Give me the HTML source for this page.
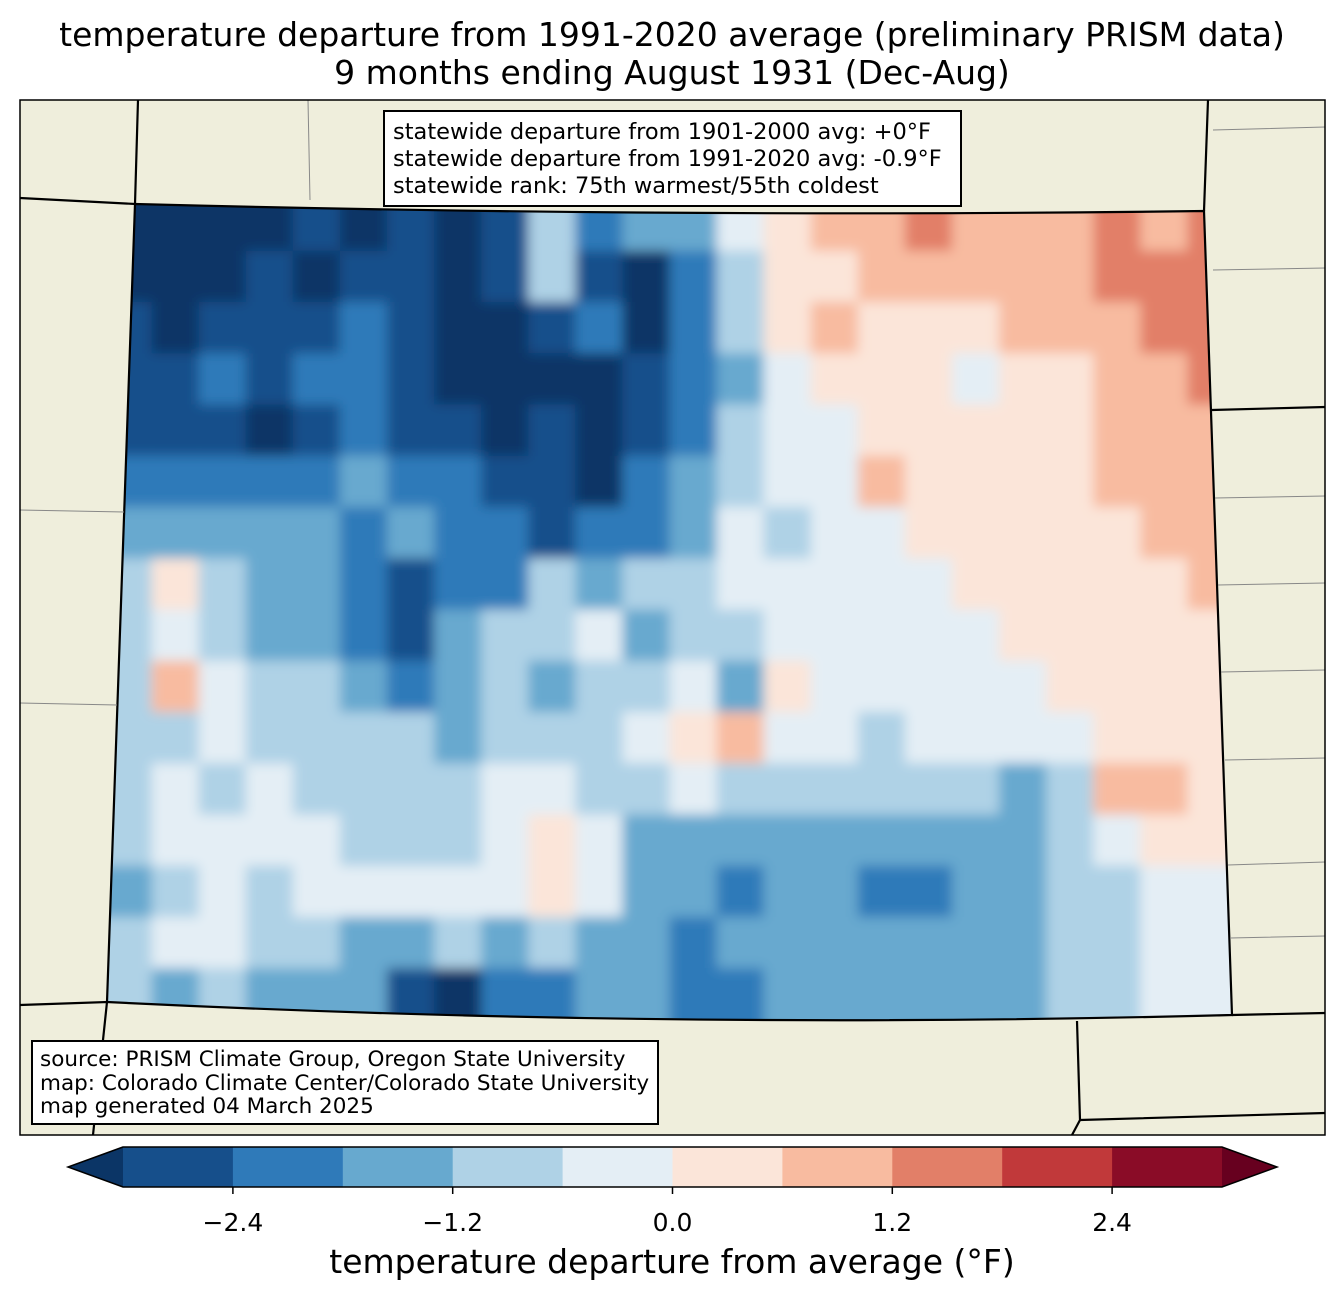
<!DOCTYPE html>
<html><head><meta charset="utf-8">
<style>
body{margin:0;background:#fff;font-family:"Liberation Sans","DejaVu Sans",sans-serif;}
svg text{font-family:"DejaVu Sans","Liberation Sans",sans-serif;}
</style></head>
<body>
<svg id="chart" width="1344" height="1299" viewBox="0 0 1344 1299" xmlns="http://www.w3.org/2000/svg">
<rect width="1344" height="1299" fill="#fff"/>
<text x="672" y="46" text-anchor="middle" font-size="33">temperature departure from 1991-2020 average (preliminary PRISM data)</text>
<text x="672" y="84" text-anchor="middle" font-size="33">9 months ending August 1931 (Dec-Aug)</text>
<defs>
<clipPath id="frameClip"><rect x="20" y="100" width="1305" height="1035"/></clipPath>
<clipPath id="coClip"><path d="M135,204 Q670,218 1204,211 L1232,1015 Q670,1030 107,1002 Z"/></clipPath>
<filter id="blur" filterUnits="userSpaceOnUse" x="60" y="150" width="1230" height="920"><feGaussianBlur stdDeviation="6"/></filter>
</defs>
<g clip-path="url(#frameClip)">
<rect x="20" y="100" width="1305" height="1035" fill="#efeedc"/>
<g clip-path="url(#coClip)"><g id="cells" filter="url(#blur)"></g></g>
<g fill="none" stroke="#000" stroke-width="2.2">
<path d="M135,204 Q670,218 1204,211 L1232,1015 Q670,1030 107,1002 Z"/>
<path d="M20,198 L135,204 L138,100"/>
<path d="M20,1005 L107,1002 L93,1135"/>
<path d="M1204,211 L1208,100 M1212,410 L1325,407"/>
<path d="M1232,1015 L1325,1013 M1077,1021 L1080,1120 L1072,1135 M1080,1120 L1325,1113"/>
</g>
<g fill="none" stroke="#888" stroke-width="1">
<path d="M20,510 L124,512 M20,703 L117,705 M308,100 L310,200 M1213,130 L1325,127 M1213,270 L1325,268 M1215,498 L1325,496 M1218,585 L1325,583 M1221,672 L1325,670 M1225,760 L1325,758 M1228,865 L1325,862 M1230,938 L1325,936"/>
</g>
</g>
<rect x="20" y="100" width="1305" height="1035" fill="none" stroke="#000" stroke-width="1.5"/>
<g>
<rect x="384" y="111" width="577" height="95" fill="#fff" stroke="#000" stroke-width="2"/>
<text x="393" y="139" font-size="22.5">statewide departure from 1901-2000 avg: +0°F</text>
<text x="393" y="166" font-size="22.5">statewide departure from 1991-2020 avg: -0.9°F</text>
<text x="393" y="193" font-size="22.5">statewide rank: 75th warmest/55th coldest</text>
</g>
<g>
<rect x="32" y="1041" width="626" height="83" fill="#fff" stroke="#000" stroke-width="2"/>
<text x="40" y="1066" font-size="21.5">source: PRISM Climate Group, Oregon State University</text>
<text x="40" y="1090" font-size="21.5">map: Colorado Climate Center/Colorado State University</text>
<text x="40" y="1113" font-size="21.5">map generated 04 March 2025</text>
</g>
<g id="cbar"></g>
<text x="672" y="1273" text-anchor="middle" font-size="33">temperature departure from average (°F)</text>
</svg>
<script>
const levels = [-3.0,-2.4,-1.8,-1.2,-0.6,0.0,0.6,1.2,1.8,2.4,3.0];
const binColors = ["#164f8b","#2f7ab9","#67a9cf","#afd2e6","#e4eef5","#fbe5d9","#f8bba0","#e27f68","#c1393a","#8a0c27"];
const underColor = "#0b3566";
const overColor = "#67001f";
const tickValues = [-2.4,-1.2,0.0,1.2,2.4];
const tickLabels = ["\u22122.4","\u22121.2","0.0","1.2","2.4"];
const gridValues = [
[-3.2,-3.2,-3.2,-3.2,-2.7,-3.2,-2.7,-3.2,-2.7,-0.9,-2.1,-1.5,-1.5,-0.3,0.3,0.9,0.9,1.5,0.9,0.9,0.9,1.5,0.9,1.5],
[-3.2,-3.2,-3.2,-2.7,-3.2,-2.7,-2.7,-3.2,-2.7,-0.9,-2.7,-3.2,-2.1,-0.9,0.3,0.3,0.9,0.9,0.9,0.9,0.9,1.5,1.5,1.5],
[-2.7,-3.2,-2.7,-2.7,-2.7,-2.1,-2.7,-3.2,-3.2,-2.7,-2.1,-3.2,-2.1,-0.9,0.3,0.9,0.3,0.3,0.3,0.9,0.9,0.9,1.5,1.5],
[-2.7,-2.7,-2.1,-2.7,-2.1,-2.1,-2.7,-3.2,-3.2,-3.2,-3.2,-2.7,-2.1,-1.5,-0.3,0.3,0.3,0.3,-0.3,0.3,0.3,0.9,0.9,1.5],
[-2.7,-2.7,-2.7,-3.2,-2.7,-2.1,-2.7,-2.7,-3.2,-2.7,-3.2,-2.7,-2.1,-0.9,-0.3,-0.3,0.3,0.3,0.3,0.3,0.3,0.9,0.9,0.9],
[-2.1,-2.1,-2.1,-2.1,-2.1,-1.5,-2.1,-2.1,-2.7,-2.7,-3.2,-2.1,-1.5,-0.9,-0.3,-0.3,0.9,0.3,0.3,0.3,0.3,0.9,0.9,0.9],
[-1.5,-1.5,-1.5,-1.5,-1.5,-2.1,-1.5,-2.1,-2.1,-2.7,-2.1,-2.1,-1.5,-0.3,-0.9,-0.3,-0.3,0.3,0.3,0.3,0.3,0.3,0.9,0.9],
[-0.9,0.3,-0.9,-1.5,-1.5,-2.1,-2.7,-2.1,-2.1,-0.9,-1.5,-0.9,-0.9,-0.3,-0.3,-0.3,-0.3,-0.3,0.3,0.3,0.3,0.3,0.3,0.9],
[-0.9,-0.3,-0.9,-1.5,-1.5,-2.1,-2.7,-1.5,-0.9,-0.9,-0.3,-1.5,-0.9,-0.9,-0.3,-0.3,-0.3,-0.3,-0.3,0.3,0.3,0.3,0.3,0.3],
[-0.9,0.9,-0.3,-0.9,-0.9,-1.5,-2.1,-1.5,-0.9,-1.5,-0.9,-0.9,-0.3,-1.5,0.3,-0.3,-0.3,-0.3,-0.3,-0.3,0.3,0.3,0.3,0.3],
[-0.9,-0.9,-0.3,-0.9,-0.9,-0.9,-0.9,-1.5,-0.9,-0.9,-0.9,-0.3,0.3,0.9,-0.3,-0.3,-0.9,-0.3,-0.3,-0.3,-0.3,0.3,0.3,0.3],
[-0.9,-0.3,-0.9,-0.3,-0.9,-0.9,-0.9,-0.9,-0.3,-0.3,-0.9,-0.9,-0.3,-0.9,-0.9,-0.9,-0.9,-0.9,-0.9,-1.5,-0.9,0.9,0.9,0.3],
[-0.9,-0.3,-0.3,-0.3,-0.3,-0.9,-0.9,-0.9,-0.3,0.3,-0.3,-1.5,-1.5,-1.5,-1.5,-1.5,-1.5,-1.5,-1.5,-1.5,-0.9,-0.3,0.3,0.3],
[-1.5,-0.9,-0.3,-0.9,-0.3,-0.3,-0.3,-0.3,-0.3,0.3,-0.3,-1.5,-1.5,-2.1,-1.5,-1.5,-2.1,-2.1,-1.5,-1.5,-0.9,-0.9,-0.3,-0.3],
[-0.9,-0.3,-0.3,-0.9,-0.9,-1.5,-1.5,-0.9,-1.5,-0.9,-1.5,-1.5,-2.1,-1.5,-1.5,-1.5,-1.5,-1.5,-1.5,-1.5,-0.9,-0.9,-0.3,-0.3],
[-0.9,-1.5,-0.9,-1.5,-1.5,-1.5,-2.7,-3.2,-2.1,-2.1,-1.5,-1.5,-2.1,-2.1,-1.5,-1.5,-1.5,-1.5,-1.5,-1.5,-0.9,-0.9,-0.3,-0.3]
];
const NS="http://www.w3.org/2000/svg";
const gx0=105, gx1=1235, gy0=200, gy1=1020;
function colorFor(v){
  if(v<levels[0]) return underColor;
  if(v>=levels[levels.length-1]) return overColor;
  for(let i=0;i<levels.length-1;i++){ if(v>=levels[i]&&v<levels[i+1]) return binColors[i]; }
  return overColor;
}
const cells=document.getElementById('cells');
const nr=gridValues.length, nc=gridValues[0].length;
const cw=(gx1-gx0)/nc, ch=(gy1-gy0)/nr;
gridValues.forEach((row,j)=>row.forEach((v,i)=>{
  const r=document.createElementNS(NS,'rect');
  const x0=i===0?gx0-40:gx0+i*cw-0.5;
  const x1=i===nc-1?gx1+40:gx0+(i+1)*cw+0.5;
  const y0=j===0?gy0-40:gy0+j*ch-0.5;
  const y1=j===nr-1?gy1+40:gy0+(j+1)*ch+0.5;
  r.setAttribute('x',x0); r.setAttribute('y',y0);
  r.setAttribute('width',x1-x0); r.setAttribute('height',y1-y0);
  r.setAttribute('fill',colorFor(v));
  
  
  cells.appendChild(r);
}));
const cb=document.getElementById('cbar');
const cbx0=123, cbx1=1222, cby=1147, cbh=40;
function xScale(v){return cbx0+(v-levels[0])/(levels[levels.length-1]-levels[0])*(cbx1-cbx0);}
for(let i=0;i<binColors.length;i++){
  const r=document.createElementNS(NS,'rect');
  const x=xScale(levels[i]), x2=xScale(levels[i+1]);
  r.setAttribute('x',x); r.setAttribute('y',cby); r.setAttribute('width',x2-x+0.5); r.setAttribute('height',cbh);
  r.setAttribute('fill',binColors[i]);
  
  
  cb.appendChild(r);
}
const la=document.createElementNS(NS,'path');
la.setAttribute('d',`M${cbx0},${cby} L68,${cby+cbh/2} L${cbx0},${cby+cbh} Z`);
la.setAttribute('fill',underColor);


cb.appendChild(la);
const ra=document.createElementNS(NS,'path');
ra.setAttribute('d',`M${cbx1},${cby} L1277,${cby+cbh/2} L${cbx1},${cby+cbh} Z`);
ra.setAttribute('fill',overColor);


cb.appendChild(ra);
const ol=document.createElementNS(NS,'path');
ol.setAttribute('d',`M${cbx0},${cby} L68,${cby+cbh/2} L${cbx0},${cby+cbh} L${cbx1},${cby+cbh} L1277,${cby+cbh/2} L${cbx1},${cby} Z`);
ol.setAttribute('fill','none'); ol.setAttribute('stroke','#000'); ol.setAttribute('stroke-width','1.5');


cb.appendChild(ol);
tickValues.forEach((v,i)=>{
  const x=xScale(v);
  const t=document.createElementNS(NS,'line');
  t.setAttribute('x1',x); t.setAttribute('x2',x); t.setAttribute('y1',cby+cbh); t.setAttribute('y2',cby+cbh+7);
  t.setAttribute('stroke','#000'); t.setAttribute('stroke-width','1.5');
  
  
  cb.appendChild(t);
  const tx=document.createElementNS(NS,'text');
  tx.setAttribute('x',x); tx.setAttribute('y',1231); tx.setAttribute('text-anchor','middle'); tx.setAttribute('font-size','25');
  tx.textContent=tickLabels[i];
  
  
  cb.appendChild(tx);
});
</script>
</body></html>
